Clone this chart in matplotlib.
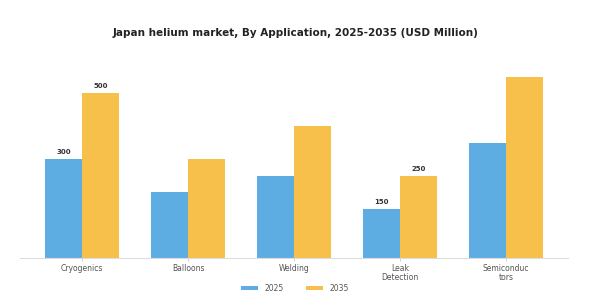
import numpy as np
import matplotlib
matplotlib.use("Agg")
import matplotlib.pyplot as plt

categories = ["Cryogenics", "Balloons", "Welding", "Leak\nDetection", "Semiconduc\ntors"]
values_2025 = [300, 200, 250, 150, 350]
values_2035 = [500, 300, 400, 250, 550]
labelled = [0, 3]  # categories that carry value labels

blue = "#5DADE2"
yellow = "#F7C04A"

fig = plt.figure(figsize=(5.9, 3.05), dpi=100)
ax = fig.add_axes([0.034, 0.154, 0.929, 0.648])

x = np.arange(len(categories))
w = 0.35
b1 = ax.bar(x - w / 2, values_2025, w, color=blue, label="2025")
b2 = ax.bar(x + w / 2, values_2035, w, color=yellow, label="2035")

for i in labelled:
    ax.text(x[i] - w / 2, values_2025[i] + 12, str(values_2025[i]),
            ha="center", va="bottom", fontsize=5, fontweight="bold", color="#333333")
    ax.text(x[i] + w / 2, values_2035[i] + 12, str(values_2035[i]),
            ha="center", va="bottom", fontsize=5, fontweight="bold", color="#333333")

ax.set_xlim(-0.585, len(categories) - 1 + 0.585)
ax.set_ylim(0, 600)
ax.set_yticks([])
ax.set_xticks(x)
ax.set_xticklabels(categories, fontsize=5.5, color="#555555", linespacing=1.1)
ax.tick_params(axis="x", length=2, width=0.5, color="#bbbbbb", pad=2)
for s in ["top", "right", "left"]:
    ax.spines[s].set_visible(False)
ax.spines["bottom"].set_color("#dddddd")
ax.spines["bottom"].set_linewidth(0.8)

fig.text(0.5, 0.892, "Japan helium market, By Application, 2025-2035 (USD Million)",
         ha="center", va="center", fontsize=7.5, fontweight="bold", color="#222222")

fig.legend(handles=[b1, b2], loc="center", bbox_to_anchor=(0.5, 0.055), ncol=2,
           frameon=False, fontsize=5.5, handlelength=2.2, handleheight=0.6,
           columnspacing=3, labelcolor="#555555")

fig.savefig("out.png", dpi=100, facecolor="white")
